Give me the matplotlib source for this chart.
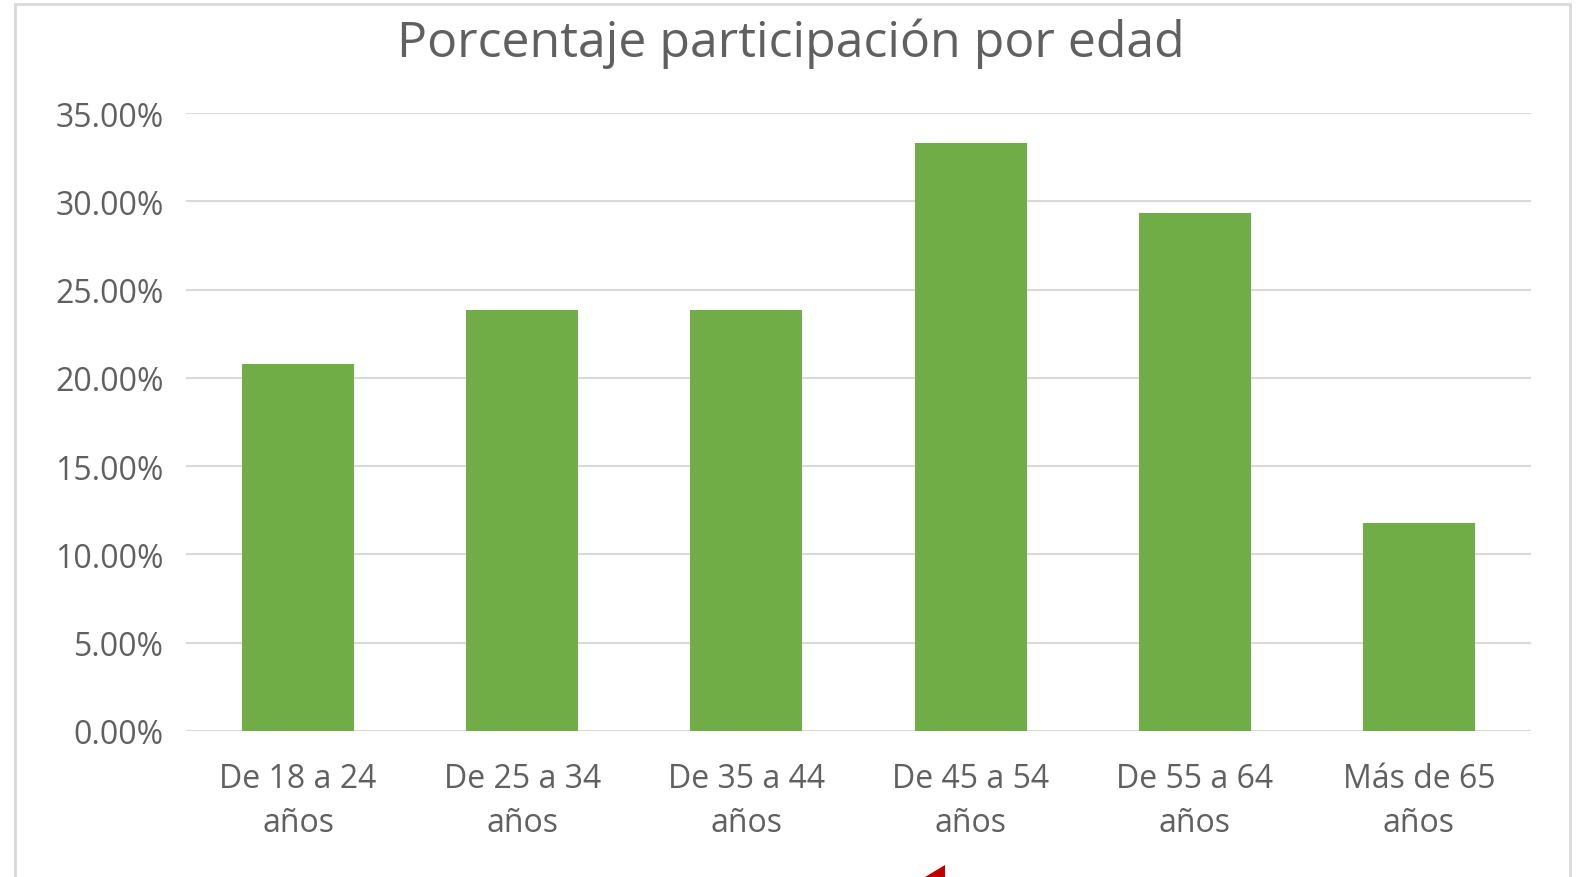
import matplotlib
matplotlib.use("Agg")
import matplotlib.pyplot as plt
from matplotlib.patches import Rectangle, Polygon
from matplotlib.ticker import FuncFormatter

categories = ["De 18 a 24\naños", "De 25 a 34\naños", "De 35 a 44\naños",
              "De 45 a 54\naños", "De 55 a 64\naños", "Más de 65\naños"]
values = [20.77, 23.84, 23.84, 33.29, 29.31, 11.78]
yticks = [0, 5, 10, 15, 20, 25, 30, 35]
title = "Porcentaje participación por edad"

W, H = 1577, 878
fig = plt.figure(figsize=(W / 100, H / 100), dpi=100)
plt.rcParams['font.family'] = ['Open Sans', 'DejaVu Sans']
txt = "#606060"

ax = fig.add_axes([186 / W, 1 - 732 / H, (1531 - 186) / W, (732 - 114) / H])
x = list(range(len(categories)))
ax.bar(x, values, width=0.5, color="#70AD47", zorder=3)
ax.set_xlim(-0.5, len(categories) - 0.5)
ax.set_ylim(0, 35)
ax.set_yticks(yticks)
ax.yaxis.set_major_formatter(FuncFormatter(lambda v, p: f"{v:.2f}%"))
ax.set_xticks(x)
ax.set_xticklabels(categories, fontsize=23, color=txt, linespacing=1.45)
ax.tick_params(axis='y', labelsize=23, labelcolor=txt, length=0, pad=16)
ax.tick_params(axis='x', length=0, pad=22)
ax.grid(axis='y', color="#D9D9D9", linewidth=1.5, zorder=0)
for s in ax.spines.values():
    s.set_visible(False)

fig.text(791 / W, 1 - 44 / H, title, ha='center', va='center', fontsize=36, color=txt)

# chart border
fig.patches.append(Rectangle((15 / W, -0.05), (1570 - 15) / W, 1.05 - 5 / H,
                             transform=fig.transFigure, fill=False,
                             edgecolor="#D9D9D9", linewidth=2))
# small red arrow fragment at bottom
fig.patches.append(Polygon([[925 / W, 0], [945 / W, 0], [945 / W, 1 - 866 / H]],
                           closed=True, transform=fig.transFigure,
                           facecolor="#C00000", edgecolor="none"))

fig.savefig("out.png", dpi=100)
